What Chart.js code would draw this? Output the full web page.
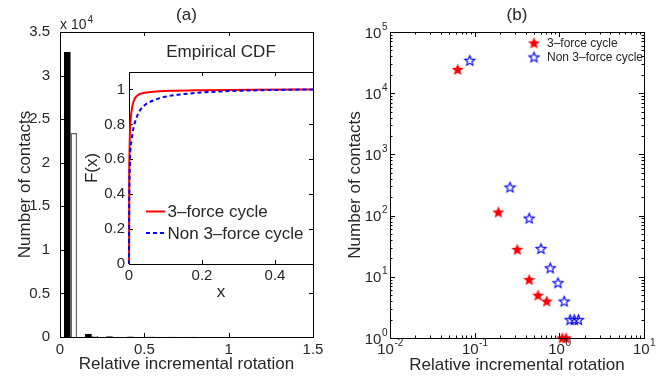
<!DOCTYPE html>
<html>
<head>
<meta charset="utf-8">
<script src="https://cdn.jsdelivr.net/npm/chart.js@4.4.1/dist/chart.umd.min.js"></script>
<style>
html, body { margin: 0; padding: 0; background: #fff; }
#wrap { position: relative; width: 665px; height: 384px; overflow: hidden; }
canvas { position: absolute; }
</style>
</head>
<body>
<div id="wrap">
  <canvas id="histChart" width="330" height="384" style="left:0;top:0"></canvas>
  <canvas id="cdfChart" width="234" height="266" style="left:80px;top:40px"></canvas>
  <canvas id="logChart" width="335" height="384" style="left:330px;top:0"></canvas>
</div>
<script>
// (a) histogram, counts per bin
const binCenters = [0.0625, 0.1875, 0.3125, 0.4375, 0.5625, 0.6875, 0.8125, 0.9375, 1.0625, 1.1875, 1.3125, 1.4375];
const histNon3 = [32700, 350, 60, 30, 14, 8, 5, 3, 2, 2, 1, 1];
const hist3 = [23400, 110, 30, 9, 5, 4, 0, 0, 2, 1, 0, 0];
const histXTicks = [0, 0.5, 1, 1.5];
const histYTicks = [0, 5000, 10000, 15000, 20000, 25000, 30000, 35000];

// inset: empirical CDF
const cdf3X = [0, 0.0005, 0.0015, 0.0027, 0.0073, 0.0137, 0.021, 0.039, 0.067, 0.112, 0.204, 0.34, 0.504];
const cdf3F = [0, 0.45, 0.65, 0.76, 0.88, 0.937, 0.962, 0.98, 0.987, 0.992, 0.996, 0.999, 1];
const cdfNon3X = [0, 0.0008, 0.0027, 0.0073, 0.012, 0.021, 0.03, 0.048, 0.067, 0.094, 0.14, 0.204, 0.295, 0.43, 0.504];
const cdfNon3F = [0, 0.35, 0.59, 0.71, 0.775, 0.84, 0.88, 0.918, 0.937, 0.956, 0.971, 0.983, 0.992, 0.998, 1];
const cdfXTicks = [0, 0.2, 0.4];
const cdfYTicks = [0, 0.2, 0.4, 0.6, 0.8, 1];

// (b) log-log counts
const log3X = [0.063, 0.19, 0.318, 0.44, 0.56, 0.71, 1.08, 1.2];
const log3Y = [24500, 114, 28, 9, 5, 4, 1, 1];
const logNon3X = [0.0875, 0.261, 0.44, 0.607, 0.78, 0.964, 1.14, 1.34, 1.5, 1.68];
const logNon3Y = [34400, 292, 91, 29, 14, 8, 4, 2, 2, 2];
const logXTicks = [0.01, 0.1, 1, 10];
const logYTicks = [1, 10, 100, 1000, 10000, 100000];

const seriesNames = ['3\u2013force cycle', 'Non 3\u2013force cycle'];

const TXT = '#262626';
const FONT = '"Liberation Sans", Arial, Helvetica, sans-serif';
Chart.defaults.font.family = FONT;
Chart.defaults.color = TXT;

function minorValues(scale) {
  const out = [];
  for (let e = Math.floor(Math.log10(scale.min)); e < Math.round(Math.log10(scale.max)); e++)
    for (let k = 2; k <= 9; k++) out.push(k * Math.pow(10, e));
  return out;
}

function drawFrame(chart, o) {
  const {ctx, chartArea: a, scales: {x, y}} = chart;
  ctx.save();
  ctx.strokeStyle = '#000';
  ctx.lineWidth = 1;
  ctx.beginPath();
  const vTick = (v, len) => {
    const p = Math.round(x.getPixelForValue(v)) + 0.5;
    ctx.moveTo(p, a.bottom); ctx.lineTo(p, a.bottom - len);
    ctx.moveTo(p, a.top); ctx.lineTo(p, a.top + len);
  };
  const hTick = (v, len) => {
    const p = Math.round(y.getPixelForValue(v)) + 0.5;
    ctx.moveTo(a.left, p); ctx.lineTo(a.left + len, p);
    ctx.moveTo(a.right, p); ctx.lineTo(a.right - len, p);
  };
  x.ticks.forEach(t => vTick(t.value, o.tickLen));
  y.ticks.forEach(t => hTick(t.value, o.tickLen));
  if (o.minor) {
    minorValues(x).forEach(v => vTick(v, o.minorLen));
    minorValues(y).forEach(v => hTick(v, o.minorLen));
  }
  ctx.stroke();
  ctx.strokeRect(Math.round(a.left) + 0.5, Math.round(a.top) + 0.5, Math.round(a.width), Math.round(a.height));
  ctx.restore();
}

// box round the axes with inward ticks, like matlab
const axesBox = {
  id: 'axesBox',
  beforeDraw(chart, args, o) {
    if (!o.fill) return;
    const {ctx, chartArea: a} = chart;
    ctx.save();
    ctx.fillStyle = o.fill;
    ctx.fillRect(a.left, a.top, a.width, a.height);
    ctx.restore();
  },
  beforeDatasetsDraw(chart, args, o) { if (o.under) drawFrame(chart, o); },
  afterDraw(chart, args, o) { if (!o.under) drawFrame(chart, o); }
};

function drawPow(ctx, px, base, e, align) {
  const s = String(e);
  ctx.font = '15px ' + FONT;
  const w1 = ctx.measureText('10').width;
  ctx.font = '10px ' + FONT;
  const w2 = ctx.measureText(s).width;
  const x0 = align === 'center' ? px - (w1 + w2) / 2 : px - w1 - w2;
  ctx.textAlign = 'left';
  ctx.textBaseline = 'alphabetic';
  ctx.font = '15px ' + FONT;
  ctx.fillText('10', x0, base);
  ctx.font = '10px ' + FONT;
  ctx.fillText(s, x0 + w1 + 0.5, base - 8);
}

// "x 10^4" above the y axis of (a)
const expLabel = {
  id: 'expLabel',
  afterDraw(chart) {
    const {ctx, chartArea: a} = chart;
    ctx.save();
    ctx.fillStyle = TXT;
    ctx.textBaseline = 'alphabetic';
    ctx.font = '14px ' + FONT;
    ctx.fillText('x 10', a.left, a.top - 2.7);
    const w = ctx.measureText('x 10').width;
    ctx.font = '10px ' + FONT;
    ctx.fillText('4', a.left + w + 1, a.top - 9.5);
    ctx.restore();
  }
};

// power-of-ten tick labels for (b)
const powLabels = {
  id: 'powLabels',
  afterDraw(chart) {
    const {ctx, chartArea: a, scales: {x, y}} = chart;
    ctx.save();
    ctx.fillStyle = TXT;
    x.ticks.forEach(t => drawPow(ctx, x.getPixelForValue(t.value), a.bottom + 16, Math.round(Math.log10(t.value)), 'center'));
    y.ticks.forEach(t => drawPow(ctx, a.left - 3, y.getPixelForValue(t.value) + 5.5, Math.round(Math.log10(t.value)), 'right'));
    ctx.restore();
  }
};

const cdfLegend = {
  id: 'cdfLegend',
  afterDraw(chart) {
    const {ctx, chartArea: a} = chart;
    const rows = [
      {color: '#ff0000', dash: [], text: seriesNames[0], dy: 139.5},
      {color: '#0000ff', dash: [4, 3], text: seriesNames[1], dy: 161}
    ];
    ctx.save();
    rows.forEach(r => {
      const y = a.top + r.dy;
      ctx.strokeStyle = r.color;
      ctx.lineWidth = 2;
      ctx.setLineDash(r.dash);
      ctx.beginPath();
      ctx.moveTo(a.left + 17, y);
      ctx.lineTo(a.left + 36, y);
      ctx.stroke();
      ctx.setLineDash([]);
      ctx.fillStyle = TXT;
      ctx.font = '17px ' + FONT;
      ctx.textBaseline = 'middle';
      ctx.fillText(r.text, a.left + 38.5, y + 1);
    });
    ctx.restore();
  }
};

function makeStar(fill, stroke, rOut, rIn) {
  const c = document.createElement('canvas');
  c.width = 15; c.height = 15;
  const g = c.getContext('2d');
  g.beginPath();
  for (let i = 0; i < 10; i++) {
    const r = i % 2 ? rIn : rOut;
    const ang = -Math.PI / 2 + i * Math.PI / 5;
    g.lineTo(7.5 + r * Math.cos(ang), 8 + r * Math.sin(ang));
  }
  g.closePath();
  if (fill) { g.fillStyle = fill; g.fill(); }
  if (stroke) { g.strokeStyle = stroke; g.lineWidth = 1.1; g.stroke(); }
  return c;
}
const redStar = makeStar('#ff0000', null, 6.3, 2.8);
const blueStar = makeStar(null, '#0000ff', 5.3, 2.3);

const starLegend = {
  id: 'starLegend',
  afterDraw(chart) {
    const {ctx, chartArea: a} = chart;
    const rows = [{img: redStar, text: seriesNames[0], dy: 11}, {img: blueStar, text: seriesNames[1], dy: 25}];
    ctx.save();
    rows.forEach(r => {
      const y = a.top + r.dy;
      ctx.drawImage(r.img, a.left + 144 - 7.5, y - 7.5);
      ctx.fillStyle = TXT;
      ctx.font = '12px ' + FONT;
      ctx.textBaseline = 'middle';
      ctx.fillText(r.text, a.left + 157, y + 0.5);
    });
    ctx.restore();
  }
};

function axisTitle(text, pad) {
  return { display: true, text, color: TXT, font: { size: 17 }, padding: pad };
}
function panelTitle(text) {
  return { display: true, text, fullSize: false, color: TXT, font: { size: 17, weight: 'normal' }, padding: { top: 5.3, bottom: 6.3 } };
}
const noGrid = { display: false, drawTicks: false, offset: false };

// (a) histogram
new Chart(document.getElementById('histChart'), {
  type: 'bar',
  data: {
    datasets: [
      { label: seriesNames[1], data: binCenters.map((x, i) => ({ x, y: histNon3[i] })), backgroundColor: '#000', borderWidth: 0 },
      { label: seriesNames[0], data: binCenters.map((x, i) => ({ x, y: hist3[i] })), backgroundColor: '#fff', borderColor: '#666', borderWidth: 1.5 }
    ]
  },
  options: {
    responsive: false,
    animation: false,
    layout: { padding: { left: 0, right: 17, top: 0, bottom: 0 } },
    datasets: { bar: { barPercentage: 1, categoryPercentage: 0.62 } },
    plugins: {
      legend: { display: false },
      tooltip: { enabled: false },
      title: panelTitle('(a)'),
      axesBox: { tickLen: 4 }
    },
    scales: {
      x: {
        type: 'linear', min: 0, max: 1.5, offset: false,
        grid: noGrid, border: { display: false },
        afterBuildTicks: s => { s.ticks = histXTicks.map(value => ({ value })); },
        afterFit: s => { s.height = 47; },
        ticks: { padding: 3.5, font: { size: 15 }, autoSkip: false, maxRotation: 0, callback: v => String(v) },
        title: axisTitle('Relative incremental rotation', { top: 0, bottom: 9.8 })
      },
      y: {
        type: 'linear', min: 0, max: 35000,
        grid: noGrid, border: { display: false },
        afterBuildTicks: s => { s.ticks = histYTicks.map(value => ({ value })); },
        afterFit: s => { s.width = 60; },
        ticks: { padding: 10, font: { size: 15 }, autoSkip: false, callback: v => String(v / 10000) },
        title: axisTitle('Number of contacts', { top: 14.8, bottom: 0 })
      }
    }
  },
  plugins: [axesBox, expLabel]
});

// inset CDF
new Chart(document.getElementById('cdfChart'), {
  type: 'scatter',
  data: {
    datasets: [
      { label: seriesNames[0], data: cdf3X.map((x, i) => ({ x, y: cdf3F[i] })), showLine: true, borderColor: '#ff0000', borderWidth: 2, pointRadius: 0, cubicInterpolationMode: 'monotone', clip: false, order: 1 },
      { label: seriesNames[1], data: cdfNon3X.map((x, i) => ({ x, y: cdfNon3F[i] })), showLine: true, borderColor: '#0000ff', borderWidth: 2, borderDash: [4, 3], pointRadius: 0, cubicInterpolationMode: 'monotone', clip: false, order: 0 }
    ]
  },
  options: {
    responsive: false,
    animation: false,
    layout: { padding: { left: 0, right: 1, top: 0, bottom: 0 } },
    plugins: {
      legend: { display: false },
      tooltip: { enabled: false },
      title: { display: true, text: 'Empirical CDF', fullSize: false, color: TXT, font: { size: 17, weight: 'normal' }, padding: { top: 2.3, bottom: 9.3 } },
      axesBox: { tickLen: 4, fill: '#fff', under: true }
    },
    scales: {
      x: {
        type: 'linear', min: 0, max: 0.504,
        grid: noGrid, border: { display: false },
        afterBuildTicks: s => { s.ticks = cdfXTicks.map(value => ({ value })); },
        afterFit: s => { s.height = 42; },
        ticks: { padding: 3, font: { size: 15 }, autoSkip: false, maxRotation: 0, callback: v => String(v) },
        title: axisTitle('x', { top: 0, bottom: 3.8 })
      },
      y: {
        type: 'linear', min: 0, max: 1.1,
        grid: noGrid, border: { display: false },
        afterBuildTicks: s => { s.ticks = cdfYTicks.map(value => ({ value })); },
        afterFit: s => { s.width = 49; },
        ticks: { padding: 4, font: { size: 15 }, autoSkip: false, callback: v => String(v) },
        title: axisTitle('F(x)', { top: 1.8, bottom: 0 })
      }
    }
  },
  plugins: [axesBox, cdfLegend]
});

// (b) log-log scatter
new Chart(document.getElementById('logChart'), {
  type: 'scatter',
  data: {
    datasets: [
      { label: seriesNames[0], data: log3X.map((x, i) => ({ x, y: log3Y[i] })), pointStyle: redStar, pointRadius: 6, clip: false },
      { label: seriesNames[1], data: logNon3X.map((x, i) => ({ x, y: logNon3Y[i] })), pointStyle: blueStar, pointRadius: 6, clip: false }
    ]
  },
  options: {
    responsive: false,
    animation: false,
    layout: { padding: { left: 0, right: 21, top: 0, bottom: 0 } },
    plugins: {
      legend: { display: false },
      tooltip: { enabled: false },
      title: panelTitle('(b)'),
      axesBox: { tickLen: 5, minor: true, minorLen: 2.5 }
    },
    scales: {
      x: {
        type: 'logarithmic', min: 0.01, max: 10,
        grid: noGrid, border: { display: false },
        afterBuildTicks: s => { s.ticks = logXTicks.map(value => ({ value })); },
        afterFit: s => { s.height = 46; },
        ticks: { autoSkip: false, maxRotation: 0, callback: () => '' },
        title: axisTitle('Relative incremental rotation', { top: 0, bottom: 8.8 })
      },
      y: {
        type: 'logarithmic', min: 1, max: 100000,
        grid: noGrid, border: { display: false },
        afterBuildTicks: s => { s.ticks = logYTicks.map(value => ({ value })); },
        afterFit: s => { s.width = 60; },
        ticks: { autoSkip: false, callback: () => '' },
        title: axisTitle('Number of contacts', { top: 14.8, bottom: 0 })
      }
    }
  },
  plugins: [axesBox, powLabels, starLegend]
});
</script>
</body>
</html>
